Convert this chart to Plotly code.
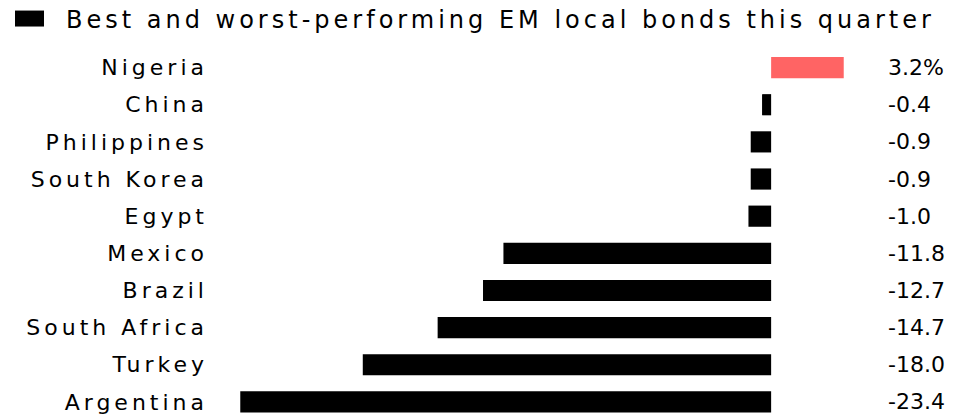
import plotly.graph_objects as go

countries = ["Nigeria", "China", "Philippines", "South Korea", "Egypt",
             "Mexico", "Brazil", "South Africa", "Turkey", "Argentina"]
returns = [3.2, -0.4, -0.9, -0.9, -1.0, -11.8, -12.7, -14.7, -18.0, -23.4]
legend_title = "Best and worst-performing EM local bonds this quarter"

W, H = 966, 414
# page body adds an 8px offset, figure coords = screen - 8
plot_left, plot_right = 230, 838
plot_top, plot_bottom = 40.5, 406

cats = countries[::-1]
vals = returns[::-1]
colors = ["#ff6464" if v > 0 else "#000000" for v in vals]

FONT = "DejaVu Sans"

def spaced(t, px):
    return f'<span style="letter-spacing:{px}px">{t}</span>'

fig = go.Figure()
fig.add_trace(go.Bar(
    y=cats, x=vals, orientation="h",
    marker=dict(color=colors, line=dict(width=0)),
    hoverinfo="skip", showlegend=False,
))

n = len(cats)
row = plot_bottom - plot_top
step = 37.2
top_val = n - 0.5
bot_val = top_val - row / step

pw = plot_right - plot_left
val_x = (878 - plot_left) / pw

labels = [f"{v:.1f}%" if i == 0 else f"{v:.1f}" for i, v in enumerate(returns)]
for c, t in zip(countries, labels):
    fig.add_annotation(x=val_x, xref="paper", y=c, yref="y", text=t,
                       showarrow=False, xanchor="left", yanchor="middle",
                       font=dict(family=FONT, size=22, color="#000000"))

# legend
fig.add_shape(type="rect", xref="paper", yref="paper",
              x0=(7 - plot_left) / pw, x1=(36 - plot_left) / pw,
              y0=(plot_bottom - 18) / row, y1=(plot_bottom - 2) / row,
              fillcolor="#000000", line=dict(width=0))
fig.add_annotation(x=(56 - plot_left) / pw, xref="paper",
                   y=(plot_bottom - 11) / row, yref="paper",
                   text=spaced(legend_title, 4), showarrow=False,
                   xanchor="left", yanchor="middle",
                   font=dict(family=FONT, size=24, color="#000000"))

fig.update_layout(
    width=W, height=H,
    margin=dict(l=plot_left, r=W - plot_right, t=plot_top, b=H - plot_bottom, pad=0),
    paper_bgcolor="#ffffff", plot_bgcolor="#ffffff",
    bargap=0.43,
    font=dict(family=FONT, size=22, color="#000000"),
    xaxis=dict(range=[-23.5, 3.3], visible=False, showgrid=False, zeroline=False),
    yaxis=dict(categoryorder="array", categoryarray=cats,
               tickmode="array", tickvals=cats,
               ticktext=[spaced(c, 4) for c in cats],
               range=[bot_val, top_val], showgrid=False, zeroline=False,
               showline=False, ticks="", ticklabelstandoff=29,
               tickfont=dict(family=FONT, size=22, color="#000000")),
)

fig.write_html("out.html")
